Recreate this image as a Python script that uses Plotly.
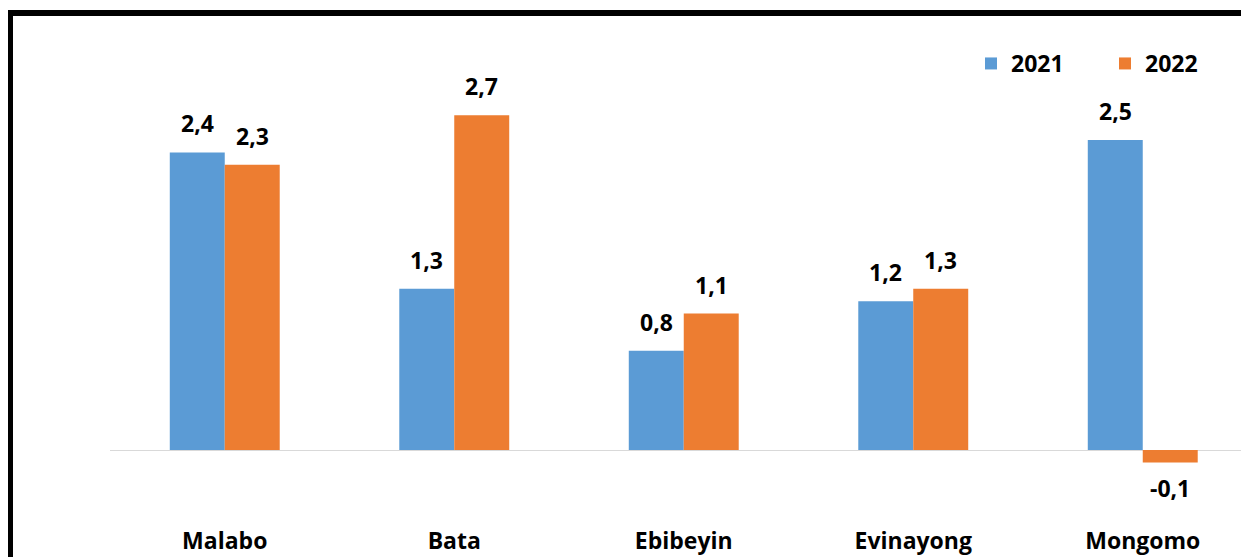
import plotly.graph_objects as go

categories = ["Malabo", "Bata", "Ebibeyin", "Evinayong", "Mongomo"]
series_names = ["2021", "2022"]
values_2021 = [2.4, 1.3, 0.8, 1.2, 2.5]
values_2022 = [2.3, 2.7, 1.1, 1.3, -0.1]
colors = ["#5B9BD5", "#ED7D31"]

# the page adds an 8px body margin; work in figure pixels
W, H = 1241, 549
L, R, T, B = 102, 0, 8, 32
ZERO = 442
PX_PER_UNIT = 124.0
CAT_PX = 229.5
plot_w = W - L - R
plot_h = H - T - B
FONT = dict(family="Open Sans", size=23, color="#000000", weight="bold")

def px_x(p):
    return (p - L) / plot_w

def px_y(p):
    return (H - B - p) / plot_h

def fmt(v):
    return f"{v:.1f}".replace(".", ",")

fig = go.Figure()
for name, vals, col in zip(series_names, [values_2021, values_2022], colors):
    fig.add_trace(go.Bar(
        x=categories, y=vals, name=name,
        marker=dict(color=col, line=dict(width=0)),
        hoverinfo="skip",
    ))

annotations = []
for k, vals in enumerate([values_2021, values_2022]):
    for i, v in enumerate(vals):
        annotations.append(dict(
            x=i, y=v, xref="x", yref="y",
            xshift=(-27.5 if k == 0 else 27.5),
            yshift=(11 if v >= 0 else -8),
            yanchor=("bottom" if v >= 0 else "top"),
            text=fmt(v), showarrow=False,
            font=FONT,
        ))

fig.update_layout(
    width=W, height=H,
    margin=dict(l=L, r=R, t=T, b=B),
    paper_bgcolor="white", plot_bgcolor="white",
    barmode="group", bargap=0.521, bargroupgap=0,
    font=FONT,
    showlegend=True,
    legend=dict(
        orientation="h", x=px_x(963), xanchor="left",
        y=px_y(34), yanchor="top",
        font=FONT,
        entrywidth=89, bgcolor="rgba(0,0,0,0)",
    ),
    xaxis=dict(
        range=[-0.5, -0.5 + plot_w / CAT_PX],
        showgrid=False, showline=False, ticks="",
        tickfont=FONT,
    ),
    yaxis=dict(
        range=[-(H - B - ZERO) / PX_PER_UNIT, (ZERO - T) / PX_PER_UNIT],
        showgrid=False, showticklabels=False, ticks="",
        zeroline=True, zerolinecolor="#D9D9D9", zerolinewidth=1,
    ),
    annotations=annotations,
    shapes=[dict(
        type="rect", xref="paper", yref="paper",
        x0=px_x(2), x1=px_x(1270), y0=px_y(590), y1=px_y(5),
        line=dict(color="#000000", width=6), fillcolor="rgba(0,0,0,0)",
        layer="above",
    )],
)

fig.write_html("out.html")
